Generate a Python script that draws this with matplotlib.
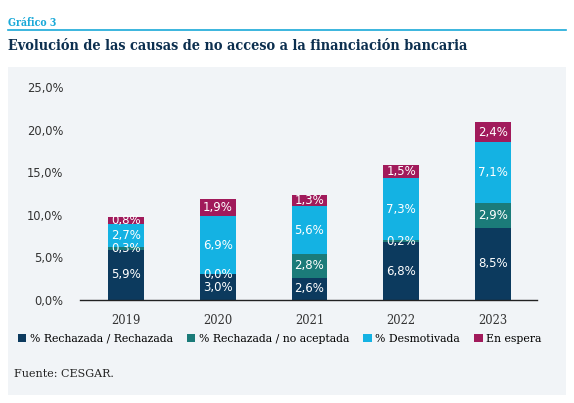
import numpy as np
import matplotlib.pyplot as plt
from matplotlib.patches import Rectangle

years = ['2019', '2020', '2021', '2022', '2023']
rechazada = [5.9, 3.0, 2.6, 6.8, 8.5]
no_aceptada = [0.3, 0.0, 2.8, 0.2, 2.9]
desmotivada = [2.7, 6.9, 5.6, 7.3, 7.1]
en_espera = [0.8, 1.9, 1.3, 1.5, 2.4]
series_names = ['% Rechazada / Rechazada', '% Rechazada / no aceptada',
                '% Desmotivada', 'En espera']
colors = ['#0c3a5e', '#1b7b79', '#14b2e3', '#a11a5b']
yticks = [0, 5, 10, 15, 20, 25]

W, H = 574, 403
fig = plt.figure(figsize=(W / 100, H / 100), dpi=100)
fig.patch.set_facecolor('white')

# grey panel behind the chart
fig.patches.append(Rectangle((8 / W, (H - 395) / H), 558 / W, 328 / H,
                             transform=fig.transFigure, facecolor='#f1f4f7',
                             edgecolor='none', zorder=-5))

# header
fig.text(8 / W, 1 - 22 / H, 'Gráfico 3', color='#1aa9d8', fontsize=7.6,
         fontweight='bold', family='DejaVu Serif', fontstretch='condensed',
         va='center')
fig.add_artist(plt.Line2D([8 / W, 566 / W], [1 - 29.5 / H, 1 - 29.5 / H],
                          color='#1aa9d8', lw=1.2, transform=fig.transFigure))
fig.text(8 / W, 1 - 46 / H, 'Evolución de las causas de no acceso a la financiación bancaria',
         color='#0c2f4f', fontsize=10.4, fontweight='bold', family='DejaVu Serif',
         fontstretch='condensed', va='center')

ax = fig.add_axes([80 / W, (H - 300) / H, 457 / W, 213 / H])
ax.set_facecolor('none')
ax.set_zorder(2)

x = np.arange(len(years))
width = 0.39
data = [rechazada, no_aceptada, desmotivada, en_espera]
bottom = np.zeros(len(years))
handles = []
for vals, c, name in zip(data, colors, series_names):
    vals = np.array(vals)
    b = ax.bar(x, vals, width, bottom=bottom, color=c, label=name, zorder=2)
    handles.append(b)
    for xi, v, bt in zip(x, vals, bottom):
        ax.text(xi, bt + v / 2, f'{v:.1f}%'.replace('.', ','), ha='center',
                va='center', color='white', fontsize=8.5, zorder=3)
    bottom += vals

ax.set_xlim(-0.5, 4.48)
ax.set_ylim(0, 25)
ax.set_yticks(yticks)
ax.set_yticklabels([f'{t:.1f}%'.replace('.', ',') for t in yticks],
                   fontsize=8.3, color='#333333')
ax.set_xticks(x)
ax.set_xticklabels(years, fontsize=8.3, family='DejaVu Serif', color='#333333')
ax.tick_params(axis='both', length=0)
ax.tick_params(axis='y', pad=12)
ax.tick_params(axis='x', pad=10)
for s in ['top', 'right', 'left']:
    ax.spines[s].set_visible(False)
ax.spines['bottom'].set_color('#222222')
ax.spines['bottom'].set_linewidth(1)

fig.legend(handles=handles, loc='center left', bbox_to_anchor=(8 / W, 1 - 339 / H),
           ncol=4, frameon=False, handlelength=0.8, handleheight=0.8,
           handletextpad=0.3, columnspacing=1.3,
           prop={'family': 'DejaVu Serif', 'size': 7.8})

fig.text(14 / W, 1 - 374 / H, 'Fuente: CESGAR.', fontsize=8, family='DejaVu Serif',
         color='#222222', va='center')

fig.savefig('out.png', dpi=100)
